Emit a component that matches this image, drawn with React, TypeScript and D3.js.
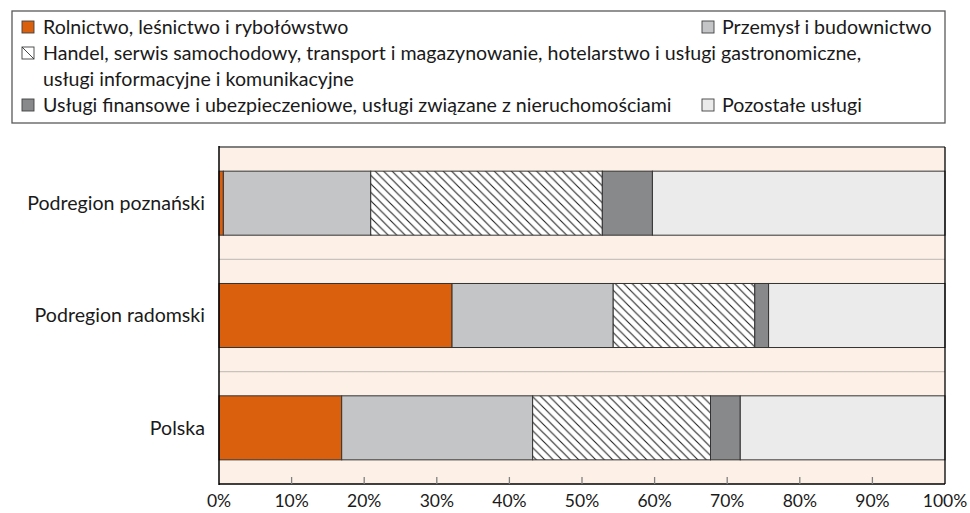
import React from "react";
import * as d3 from "d3";

const categories = ["Podregion poznański", "Podregion radomski", "Polska"];
const seriesNames = [
  "Rolnictwo, leśnictwo i rybołówstwo",
  "Przemysł i budownictwo",
  "Handel, serwis samochodowy, transport i magazynowanie, hotelarstwo i usługi gastronomiczne, usługi informacyjne i komunikacyjne",
  "Usługi finansowe i ubezpieczeniowe, usługi związane z nieruchomościami",
  "Pozostałe usługi",
];
const rolnictwo = [0.6, 32.1, 16.9];
const przemysl = [20.3, 22.2, 26.3];
const handel = [31.9, 19.5, 24.5];
const finanse = [6.9, 1.9, 4.1];
const pozostale = [40.3, 24.3, 28.2];
const xTicks = [0, 10, 20, 30, 40, 50, 60, 70, 80, 90, 100];

const series = [rolnictwo, przemysl, handel, finanse, pozostale];
const fills = ["#DA600E", "#C4C5C7", "url(#hatch)", "#88898B", "#EBEBEB"];

const FONT = "Lato, 'Liberation Sans', sans-serif";

export default function App() {
  const W = 970, H = 513;
  const x = d3.scaleLinear().domain([0, 100]).range([219, 945]);
  const y = d3.scaleBand<string>().domain(categories).range([147, 484]).paddingInner(0.43).paddingOuter(0.215);
  const step = y.step();
  const bw = y.bandwidth();

  const rows = categories.map((c, i) => {
    const vals = series.map((s) => s[i]);
    const stack = d3.cumsum(vals);
    return { c, segs: vals.map((v, k) => ({ x0: stack[k] - v, x1: stack[k], k })) };
  });

  const seps = categories.slice(1).map((c) => (y(c) as number) - (step * 0.43) / 2);

  const legendRows = [
    { y: 27, items: [{ k: 0, x: 22, text: seriesNames[0] }, { k: 1, x: 702, text: seriesNames[1] }] },
    { y: 53, items: [{ k: 2, x: 22, text: "Handel, serwis samochodowy, transport i magazynowanie, hotelarstwo i usługi gastronomiczne," }] },
    { y: 79, items: [{ k: -1, x: 22, text: "usługi informacyjne i komunikacyjne" }] },
    { y: 105, items: [{ k: 3, x: 22, text: seriesNames[3] }, { k: 4, x: 702, text: seriesNames[4] }] },
  ];

  const FS = 19.6;

  return (
    <svg width={W} height={H} style={{ position: "absolute", left: 0, top: 0, background: "#fff" }} fontFamily={FONT}>
      <defs>
        <pattern id="hatch" patternUnits="userSpaceOnUse" width={8.5} height={8.5}>
          <rect width={8.5} height={8.5} fill="#fff" />
          <path d="M0,0 L8.5,8.5 M-1,7.5 L1,9.5 M7.5,-1 L9.5,1" stroke="#222" strokeWidth={1.1} />
        </pattern>
      </defs>
      {/* legend */}
      <rect x={12} y={11} width={933} height={112} fill="#fff" stroke="#595959" strokeWidth={1.3} />
      {legendRows.map((r, ri) => (
        <g key={ri}>
          {r.items.map((it, ii) => (
            <g key={ii}>
              {it.k >= 0 && (
                <rect x={it.x} y={r.y - 6} width={12} height={12}
                  fill={it.k === 2 ? "#fff" : fills[it.k]} stroke="#404040" strokeWidth={0.9} />
              )}
              {it.k === 2 && (
                <path d={`M${it.x},${r.y - 6} L${it.x + 12},${r.y + 6}`} stroke="#333" strokeWidth={0.9} />
              )}
              <text x={it.k === 1 || it.k === 4 ? 722 : 43} y={r.y} dy="0.35em" fontSize={FS} fill="#1a1a1a">
                {it.text}
              </text>
            </g>
          ))}
        </g>
      ))}
      {/* plot background */}
      <rect x={x(0)} y={147} width={x(100) - x(0)} height={484 - 147} fill="#FDF1E7" />
      {seps.map((s, i) => (
        <line key={i} x1={x(0)} x2={x(100)} y1={s} y2={s} stroke="#C9C3BE" strokeWidth={1.3} />
      ))}
      {/* bars */}
      {rows.map((r) => (
        <g key={r.c}>
          {r.segs.map((s) => (
            <rect key={s.k} x={x(s.x0)} y={y(r.c)} width={x(s.x1) - x(s.x0)} height={bw}
              fill={fills[s.k]} stroke="#333" strokeWidth={1} />
          ))}
          <text x={205} y={(y(r.c) as number) + bw / 2} dy="0.35em" textAnchor="end" fontSize={FS} fill="#1a1a1a">
            {r.c}
          </text>
        </g>
      ))}
      {/* frame */}
      <line x1={x(0)} x2={x(100)} y1={147} y2={147} stroke="#7F7F7F" strokeWidth={2} />
      <line x1={x(100)} x2={x(100)} y1={147} y2={484} stroke="#000" strokeWidth={1.3} />
      <line x1={x(0)} x2={x(0)} y1={146} y2={485} stroke="#000" strokeWidth={1.5} />
      <line x1={x(0)} x2={x(100)} y1={484} y2={484} stroke="#000" strokeWidth={1.5} />
      {xTicks.slice(1, -1).map((t) => (
        <line key={t} x1={x(t)} x2={x(t)} y1={477} y2={484} stroke="#808080" strokeWidth={1.3} />
      ))}
      {xTicks.map((t) => (
        <text key={t} x={x(t)} y={501} dy="0.35em" textAnchor="middle" fontSize={17.5} fill="#1a1a1a">
          {`${t}%`}
        </text>
      ))}
    </svg>
  );
}
